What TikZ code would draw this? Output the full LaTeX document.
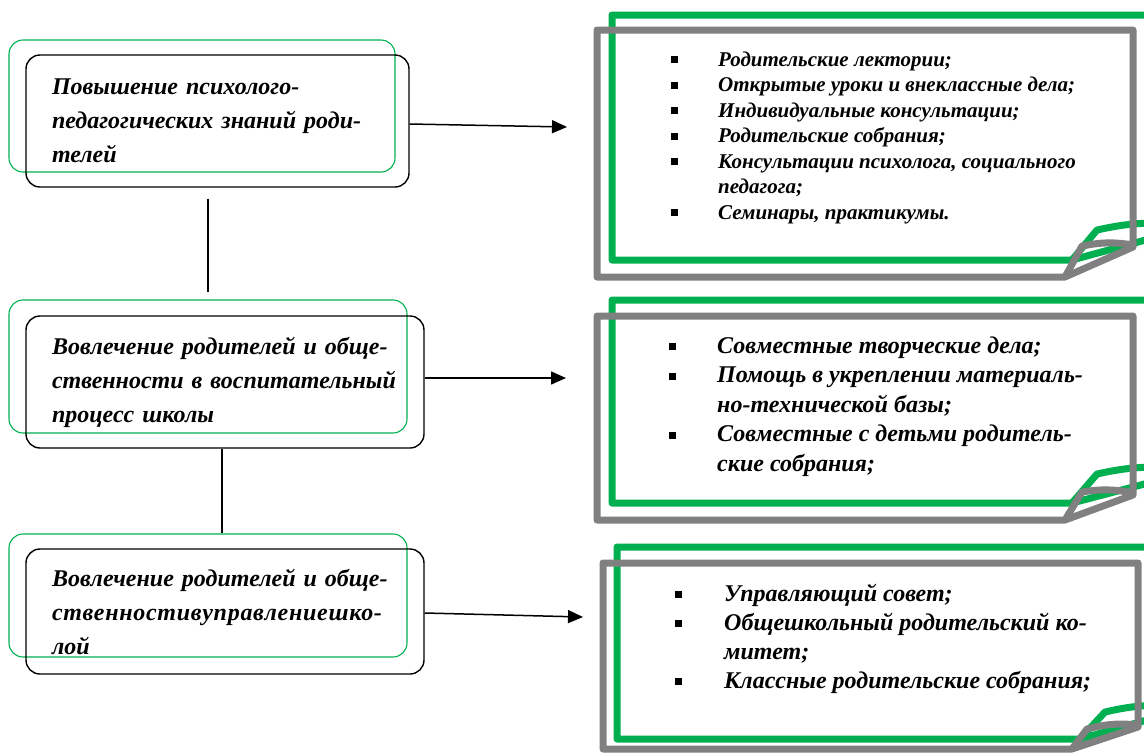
\documentclass[tikz,border=0pt]{standalone}
\usepackage{fontspec}
\setmainfont{Liberation Serif}
\usetikzlibrary{arrows.meta}
\definecolor{boxgreen}{RGB}{0,176,80}
\definecolor{foldgray}{RGB}{128,128,128}
\newcommand{\bul}{\rule[0.12em]{7pt}{7pt}}

\begin{document}
\begin{tikzpicture}
            [x=1pt,y=-1pt,
            leftbox/.style={draw=black,line width=1.4pt,rounded corners=14pt,
                font={\bfseries\itshape\fontsize{24}{34}\selectfont},
                align=left,inner xsep=26pt,inner ysep=0pt},
            shadowbox/.style={draw=boxgreen,line width=1.1pt,rounded corners=14pt,
                inner sep=0pt},
            listtext/.style={anchor=base west,inner sep=0pt,align=left},
            greenframe/.style={draw=boxgreen,line width=7pt,line join=round},
            grayframe/.style={draw=foldgray,line width=7pt,line join=round},
            link/.style={black,line width=1.4pt},
            arrow/.style={black,line width=1.5pt,-{Triangle[length=15pt,width=13pt]}},
            ]
            \path[use as bounding box,clip] (0,0) rectangle (1144,753);

            % Left column
            \node[shadowbox,minimum width=386pt,minimum height=132pt] (g1) at (202,106) {};
            \node[leftbox,text width=331pt,minimum height=132pt] (b1) at (217.5,121)
                {Повышение психолого-\\педагогических знаний роди-\\телей};

            \node[shadowbox,minimum width=398pt,minimum height=133pt] (g2) at (208,366.5) {};
            \node[leftbox,text width=346pt,minimum height=132pt] (b2) at (225,382)
                {Вовлечение родителей и обще-\\ственности в воспитательный\\процесс школы};

            \node[shadowbox,minimum width=398pt,minimum height=123pt] (g3) at (208,595.5) {};
            \node[leftbox,text width=346pt,minimum height=125pt] (b3) at (225,611.5)
                {Вовлечение родителей и обще-\\{\addfontfeature{LetterSpace=3}ственностивуправлениешко-}\\лой};

            % Links
            \draw[link] ([xshift=-9.5pt,yshift=-11pt]b1.south) -- ([xshift=-9.5pt,yshift=7pt]b1.south |- g2.north);
            \draw[link] ([xshift=-3pt]b2.south) -- ([xshift=-3pt]b2.south |- g3.north);

            % Right column: folded notes
            \draw[greenframe] (612,15) -- (1175,15) -- (1175,232) -- (1072,260) -- (612,260) -- cycle;
            \draw[greenframe] (1072,260) -- (1097,230) to[bend left=8] (1175,224);
            \draw[grayframe] (597,30) -- (1133,30) -- (1133,247) -- (1065,277) -- (597,277) -- cycle;
            \draw[grayframe] (1065,277) -- (1082,246) to[bend left=10] (1133,245);

            \draw[greenframe] (612,300) -- (1175,300) -- (1175,476) -- (1072,503) -- (612,503) -- cycle;
            \draw[greenframe] (1072,503) -- (1097,474) to[bend left=8] (1175,468);
            \draw[grayframe] (597,316) -- (1133,316) -- (1133,495) -- (1065,520) -- (597,520) -- cycle;
            \draw[grayframe] (1065,520) -- (1082,492) to[bend left=10] (1133,493);

            \draw[greenframe] (617,547) -- (1175,547) -- (1175,712) -- (1080,739) -- (617,739) -- cycle;
            \draw[greenframe] (1080,739) -- (1105,712) to[bend left=8] (1175,706);
            \draw[grayframe] (603,563) -- (1138,563) -- (1138,727) -- (1072,749) -- (603,749) -- cycle;
            \draw[grayframe] (1072,749) -- (1087,729) to[bend left=10] (1138,725);

            \node[listtext,font={\bfseries\itshape\fontsize{21}{25.5}\selectfont}] (l1) at (671,66)
                {\begin{tabular}[t]{@{}p{47pt}@{}l@{}}
                \bul & Родительские лектории;\\
                \bul & Открытые уроки и внеклассные дела;\\
                \bul & Индивидуальные консультации;\\
                \bul & Родительские собрания;\\
                \bul & Консультации психолога, социального\\
                     & педагога;\\
                \bul & Семинары, практикумы.
                \end{tabular}};

            \node[listtext,font={\bfseries\itshape\fontsize{24}{29.5}\selectfont}] (l2) at (669,353)
                {\begin{tabular}[t]{@{}p{48pt}@{}l@{}}
                \bul & Совместные творческие дела;\\
                \bul & Помощь в укреплении материаль-\\
                     & но-технической базы;\\
                \bul & Совместные с детьми родитель-\\
                     & ские собрания;
                \end{tabular}};

            \node[listtext,font={\bfseries\itshape\fontsize{24}{29}\selectfont}] (l3) at (675,601)
                {\begin{tabular}[t]{@{}p{49pt}@{}l@{}}
                \bul & Управляющий совет;\\
                \bul & Общешкольный родительский ко-\\
                     & митет;\\
                \bul & Классные родительские собрания;
                \end{tabular}};

            % Arrows
            \coordinate (t1) at (567,127);
            \coordinate (t2) at (566,378);
            \coordinate (t3) at (583,617);
            \draw[arrow] ([yshift=-3pt]b1.east) -- (t1);
            \draw[arrow] ([yshift=4pt]b2.east) -- (t2);
            \draw[arrow] ([yshift=-1.5pt]b3.east) -- (t3);
\end{tikzpicture}
\end{document}
